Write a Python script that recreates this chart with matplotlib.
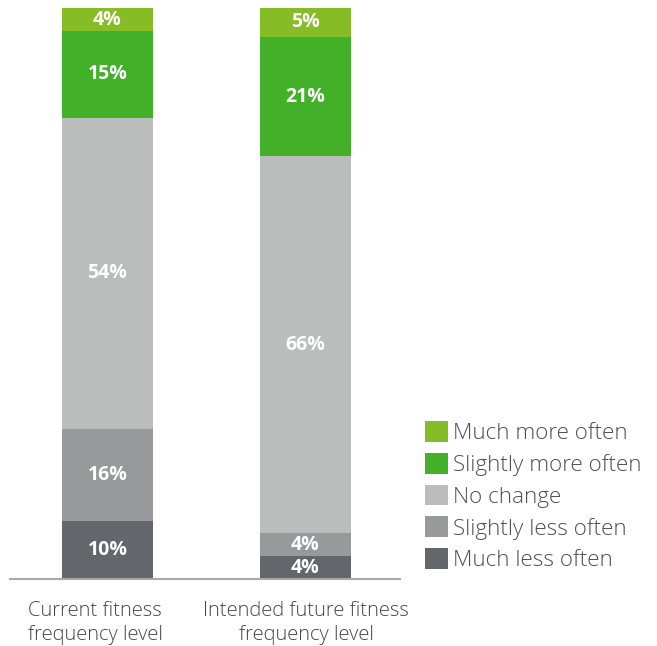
import matplotlib
matplotlib.use("Agg")
import matplotlib.pyplot as plt
from matplotlib.patches import Patch
from matplotlib import font_manager as fm

categories = ["Current fitness\nfrequency level", "Intended future fitness\nfrequency level"]
series_names = ["Much less often", "Slightly less often", "No change", "Slightly more often", "Much more often"]
much_less = [10, 4]
slightly_less = [16, 4]
no_change = [54, 66]
slightly_more = [15, 21]
much_more = [4, 5]
colors = ["#63666A", "#97999B", "#BBBCBC", "#43B02A", "#86BC25"]

plt.rcParams['font.family'] = ['Open Sans', 'DejaVu Sans']

light_path = None
for f in fm.fontManager.ttflist:
    if f.fname.endswith('OpenSans-Light.ttf'):
        light_path = f.fname
        break

def light(size):
    if light_path:
        return fm.FontProperties(fname=light_path, size=size)
    return fm.FontProperties(family='Open Sans', weight='light', size=size)

W, H = 657, 646
fig = plt.figure(figsize=(W/100, H/100), dpi=100)
ax = fig.add_axes([10/W, (H-579)/H, (400-10)/W, (579-8)/H])

series = [much_less, slightly_less, no_change, slightly_more, much_more]
totals = [sum(s[i] for s in series) for i in range(2)]
x = [0, 1]
bottom = [0.0, 0.0]
for vals, col in zip(series, colors):
    heights = [v / t * 100 for v, t in zip(vals, totals)]
    ax.bar(x, heights, bottom=bottom, width=0.46, color=col, edgecolor='none')
    for xi, v, h, b in zip(x, vals, heights, bottom):
        ax.text(xi, b + h/2, f"{v}%", ha='center', va='center', color='white',
                fontsize=14, fontweight='bold')
    bottom = [b + h for b, h in zip(bottom, heights)]

ax.set_xlim(-0.4924, 1.4773)
ax.set_ylim(0, 100)
for s in ['top', 'right', 'left']:
    ax.spines[s].set_visible(False)
ax.spines['bottom'].set_color('#A7A8AA')
ax.spines['bottom'].set_linewidth(1.5)
ax.set_yticks([])
ax.set_xticks([])

label_dx = [-9, 0.5]  # points
for xi, lab, dx in zip(x, categories, label_dx):
    ax.annotate(lab, xy=(xi, 0), xycoords=('data', 'axes fraction'),
                xytext=(dx, -16), textcoords='offset points',
                ha='center', va='top', color='#454545', linespacing=1.25,
                fontproperties=light(14.5), annotation_clip=False)

handles = [Patch(facecolor=c, edgecolor='none', label=n) for c, n in zip(colors, series_names)][::-1]
leg = fig.legend(handles=handles, loc='upper left', bbox_to_anchor=(425/W, 1 - 421/H),
                 frameon=False, prop=light(16.2), handlelength=1.04, handleheight=1.04,
                 handletextpad=0.2, labelspacing=0.39, borderpad=0, borderaxespad=0)
for t in leg.get_texts():
    t.set_color('#505050')

fig.savefig("out.png", dpi=100)
